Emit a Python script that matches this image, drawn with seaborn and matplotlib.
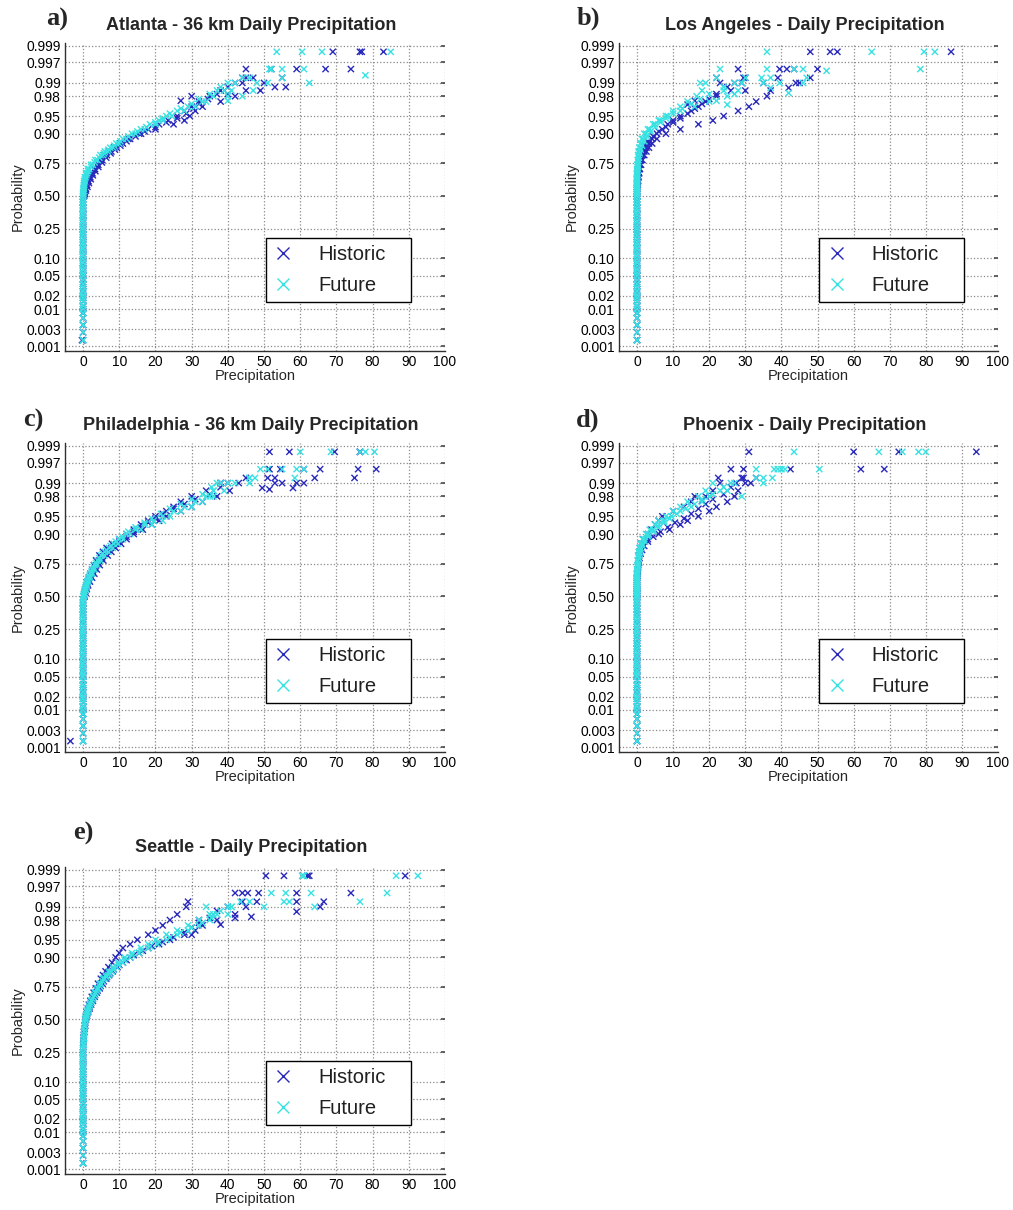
import numpy as np
import pandas as pd
import seaborn as sns
import matplotlib
matplotlib.use("Agg")
import matplotlib.pyplot as plt
from matplotlib.lines import Line2D
from statistics import NormalDist

LEVELS = [0.0015, 0.004, 0.008, 0.012, 0.018, 0.025, 0.035, 0.05, 0.065, 0.085,
          0.11, 0.14, 0.17, 0.21, 0.25, 0.3, 0.35, 0.4, 0.45,
          0.5, 0.53, 0.56, 0.59, 0.62, 0.65, 0.68, 0.71, 0.74, 0.77, 0.8, 0.82,
          0.84, 0.86, 0.88, 0.9, 0.915, 0.93, 0.94, 0.95, 0.96, 0.967, 0.974,
          0.98, 0.985, 0.99, 0.9925, 0.9955, 0.9985]
# levels for the third run of each series (sits between the first set)
LEVELS_MID = [0.0025, 0.006, 0.01, 0.015, 0.021, 0.03, 0.042, 0.057, 0.075, 0.097,
              0.125, 0.155, 0.19, 0.23, 0.275, 0.325, 0.375, 0.425, 0.475,
              0.515, 0.545, 0.575, 0.605, 0.635, 0.665, 0.695, 0.725, 0.755, 0.785,
              0.81, 0.83, 0.85, 0.87, 0.89, 0.908, 0.922, 0.935, 0.945, 0.955, 0.964,
              0.971, 0.977, 0.982, 0.9875, 0.99, 0.9925, 0.9955, 0.9985]

PROB_TICKS = [0.001, 0.003, 0.01, 0.02, 0.05, 0.10, 0.25, 0.50, 0.75, 0.90,
              0.95, 0.98, 0.99, 0.997, 0.999]
PROB_LABELS = ['0.001', '0.003', '0.01', '0.02', '0.05', '0.10', '0.25', '0.50',
               '0.75', '0.90', '0.95', '0.98', '0.99', '0.997', '0.999']
X_TICKS = [0, 10, 20, 30, 40, 50, 60, 70, 80, 90, 100]

# ---- a) Atlanta ----
atl_hist_1 = [0, 0, 0, 0, 0, 0, 0, 0, 0, 0, 0, 0, 0, 0, 0, 0, 0, 0, 0,
              0.3, 0.5, 0.8, 1.1, 1.5, 2.0, 2.6, 3.3, 4.2, 5.3, 6.6, 7.8, 9.3, 11.0, 13.0,
              15.5, 18.0, 21.0, 23.5, 26.0, 28.0, 30.0, 32.0, 35.0, 38.0, 42.0, 45.0, 52.0, 69.0]
atl_hist_2 = [-0.3, 0, 0, 0, 0, 0, 0, 0, 0, 0, 0, 0, 0, 0, 0, 0, 0, 0, 0,
              0.1, 0.3, 0.6, 0.9, 1.3, 1.8, 2.3, 3.0, 3.8, 4.9, 6.0, 7.2, 8.6, 10.3, 12.5,
              16.0, 20.0, 25.0, 28.0, 29.5, 31.0, 33.0, 38.0, 42.0, 45.0, 50.0, 55.0, 67.0, 77.0]
atl_hist_3 = [0, 0, 0, 0, 0, 0, 0, 0, 0, 0, 0, 0, 0, 0, 0, 0, 0, 0, 0,
              0.5, 0.8, 1.2, 1.6, 2.1, 2.7, 3.4, 4.2, 5.2, 6.4, 7.6, 8.8, 10.3, 12.0, 14.5,
              17.0, 20.0, 23.0, 26.0, 28.5, 30.5, 32.0, 34.5, 37.0, 40.0, 44.0, 47.0, 59.0, 83.0]
atl_hist_tail_x = [76.5, 74, 45, 56, 53, 44, 40, 49, 27, 30]
atl_hist_tail_p = [0.9985, 0.9955, 0.9955, 0.9875, 0.9875, 0.9925, 0.982, 0.985, 0.975, 0.98]
atl_fut_1 = [0, 0, 0, 0, 0, 0, 0, 0, 0, 0, 0, 0, 0, 0, 0, 0, 0, 0, 0,
             0, 0, 0.1, 0.2, 0.3, 0.5, 0.8, 1.3, 2.2, 3.4, 4.8, 6.0, 7.5, 9.2, 11.0,
             13.5, 16.0, 18.5, 21.0, 23.0, 26.0, 29.0, 33.0, 36.0, 39.0, 42.0, 46.0, 52.0, 53.5]
atl_fut_2 = [0, 0, 0, 0, 0, 0, 0, 0, 0, 0, 0, 0, 0, 0, 0, 0, 0, 0, 0,
             0, 0.1, 0.2, 0.3, 0.4, 0.7, 1.1, 1.7, 2.7, 4.0, 5.5, 6.8, 8.3, 10.0, 12.0,
             14.5, 17.0, 20.0, 22.0, 24.5, 28.0, 31.0, 34.0, 40.0, 41.0, 48.0, 55.0, 61.0, 66.0]
atl_fut_3 = [0, 0, 0, 0, 0, 0, 0, 0, 0, 0, 0, 0, 0, 0, 0, 0, 0, 0, 0,
             0, 0.1, 0.2, 0.3, 0.5, 0.9, 1.4, 2.2, 3.2, 4.5, 5.8, 7.0, 8.6, 10.3, 12.5,
             15.0, 17.5, 20.0, 22.0, 24.0, 27.0, 30.0, 32.0, 35.0, 38.0, 40.0, 44.0, 55.0, 60.5]
atl_fut_tail_x = [85, 78, 62.5, 51.5, 51, 40, 47, 37, 44]
atl_fut_tail_p = [0.9985, 0.9935, 0.99, 0.9955, 0.99, 0.975, 0.985, 0.985, 0.98]

# ---- b) Los Angeles ----
la_hist_1 = [0, 0, 0, 0, 0, 0, 0, 0, 0, 0, 0, 0, 0, 0, 0, 0, 0, 0, 0,
             0, 0, 0.1, 0.2, 0.3, 0.4, 0.6, 0.8, 1.1, 1.5, 2.0, 2.6, 3.3, 4.2, 5.5,
             8.0, 12.0, 17.0, 21.0, 24.0, 28.0, 31.0, 33.0, 36.0, 37.0, 45.0, 48.0, 50.0, 87.0]
la_hist_2 = [0, 0, 0, 0, 0, 0, 0, 0, 0, 0, 0, 0, 0, 0, 0, 0, 0, 0, 0,
             0, 0, 0, 0.1, 0.2, 0.3, 0.4, 0.6, 0.8, 1.1, 1.5, 2.0, 2.6, 3.3, 4.2,
             5.5, 7.0, 8.5, 10.0, 12.0, 15.0, 17.0, 19.0, 22.0, 26.0, 29.0, 30.0, 41.5, 48.0]
la_hist_3 = [0, 0, 0, 0, 0, 0, 0, 0, 0, 0, 0, 0, 0, 0, 0, 0, 0, 0, 0,
             0, 0, 0, 0, 0, 0.1, 0.2, 0.3, 0.5, 0.8, 1.1, 1.5, 2.1, 3.0, 4.5,
             6.0, 8.0, 10.0, 12.0, 14.0, 16.0, 18.0, 20.0, 22.0, 25.0, 27.0, 29.5, 43.5, 53.5]
la_hist_tail_x = [55.5, 28, 39.5, 22, 23, 39, 35, 42, 44, 30, 16, 14]
la_hist_tail_p = [0.9985, 0.9955, 0.9955, 0.9925, 0.99, 0.9925, 0.99, 0.987, 0.99, 0.985,
                  0.975, 0.97]
la_fut_1 = [0, 0, 0, 0, 0, 0, 0, 0, 0, 0, 0, 0, 0, 0, 0, 0, 0, 0, 0,
            0, 0, 0, 0, 0, 0, 0, 0.1, 0.2, 0.3, 0.4, 0.6, 0.8, 1.1, 1.6,
            2.5, 3.5, 5.0, 6.5, 8.0, 10.0, 12.0, 14.0, 16.5, 18.0, 19.0, 22.0, 23.0, 36.0]
la_fut_2 = [0, 0, 0, 0, 0, 0, 0, 0, 0, 0, 0, 0, 0, 0, 0, 0, 0, 0, 0,
            0, 0, 0, 0, 0, 0, 0, 0, 0.1, 0.2, 0.3, 0.4, 0.6, 0.9, 1.3,
            2.0, 3.0, 4.5, 6.0, 8.5, 12.0, 16.0, 20.0, 25.0, 28.0, 35.0, 37.0, 43.5, 65.0]
la_fut_3 = [0, 0, 0, 0, 0, 0, 0, 0, 0, 0, 0, 0, 0, 0, 0, 0, 0, 0, 0,
            0, 0, 0, 0, 0, 0, 0.1, 0.2, 0.3, 0.5, 0.7, 1.0, 1.4, 2.0, 2.8,
            3.8, 5.0, 6.5, 8.0, 10.0, 12.5, 15.0, 17.5, 20.0, 24.0, 27.0, 30.0, 36.0, 79.5]
la_fut_tail_x = [82.5, 46, 52.5, 78.5, 34.5, 47, 17.5, 29, 39.5, 46, 24, 27, 37, 42, 22, 25]
la_fut_tail_p = [0.9985, 0.9955, 0.995, 0.9955, 0.9925, 0.9925, 0.99, 0.99, 0.99, 0.99,
                 0.985, 0.982, 0.987, 0.983, 0.975, 0.97]

# ---- c) Philadelphia ----
phl_hist_1 = [-3.5, 0, 0, 0, 0, 0, 0, 0, 0, 0, 0, 0, 0, 0, 0, 0, 0, 0, 0,
              0.2, 0.4, 0.6, 0.9, 1.2, 1.6, 2.0, 2.5, 3.0, 3.6, 4.5, 5.5, 6.5, 8.0, 10.0,
              12.0, 14.0, 16.0, 18.0, 20.0, 23.0, 25.0, 27.0, 30.0, 34.0, 38.0, 45.0, 54.5, 57.0]
phl_hist_2 = [0, 0, 0, 0, 0, 0, 0, 0, 0, 0, 0, 0, 0, 0, 0, 0, 0, 0, 0,
              0.4, 0.7, 1.0, 1.4, 1.9, 2.5, 3.1, 3.8, 4.6, 5.6, 6.8, 7.8, 9.0, 10.5, 12.0,
              14.0, 16.5, 19.0, 21.0, 23.0, 27.0, 30.0, 33.0, 37.0, 40.5, 43.0, 51.0, 65.5, 76.5]
phl_hist_3 = [0, 0, 0, 0, 0, 0, 0, 0, 0, 0, 0, 0, 0, 0, 0, 0, 0, 0, 0,
              0.3, 0.6, 0.9, 1.2, 1.6, 2.1, 2.7, 3.4, 4.2, 5.2, 6.2, 7.2, 8.5, 10.0, 12.0,
              14.0, 16.0, 18.0, 20.0, 22.0, 25.0, 28.0, 31.0, 35.0, 38.0, 40.0, 53.0, 61.0, 69.5]
phl_hist_tail_x = [51.5, 76.5, 51.5, 76, 81, 75, 64, 53, 55, 59, 61, 49.5, 51.5, 58, 38]
phl_hist_tail_p = [0.9985, 0.9985, 0.9955, 0.9955, 0.9955, 0.9925, 0.9925, 0.99, 0.99,
                   0.99, 0.99, 0.987, 0.986, 0.987, 0.99]
phl_fut_1 = [0, 0, 0, 0, 0, 0, 0, 0, 0, 0, 0, 0, 0, 0, 0, 0, 0, 0, 0,
             0.1, 0.3, 0.5, 0.8, 1.1, 1.5, 2.0, 2.5, 3.2, 4.0, 5.0, 6.0, 7.2, 8.5, 10.0,
             12.0, 14.5, 17.0, 19.5, 22.0, 25.0, 28.0, 31.0, 34.0, 36.0, 38.0, 46.0, 49.0, 60.0]
phl_fut_2 = [0, 0, 0, 0, 0, 0, 0, 0, 0, 0, 0, 0, 0, 0, 0, 0, 0, 0, 0,
             0.2, 0.4, 0.7, 1.0, 1.4, 1.9, 2.5, 3.1, 3.9, 4.8, 5.9, 7.0, 8.2, 9.6, 11.0,
             13.0, 16.0, 19.0, 22.0, 24.0, 27.0, 30.0, 33.0, 36.0, 39.0, 42.0, 47.5, 51.0, 68.5]
phl_fut_3 = [0, 0, 0, 0, 0, 0, 0, 0, 0, 0, 0, 0, 0, 0, 0, 0, 0, 0, 0,
             0.2, 0.4, 0.7, 1.0, 1.4, 1.8, 2.3, 2.9, 3.6, 4.5, 5.4, 6.4, 7.6, 9.0, 10.8,
             12.5, 14.5, 17.0, 19.0, 21.5, 24.0, 27.0, 30.0, 33.0, 35.5, 37.0, 46.0, 55.0, 76.5]
phl_fut_tail_x = [78, 80.5, 59, 61, 58.5, 46, 36, 40, 35]
phl_fut_tail_p = [0.9985, 0.9985, 0.9955, 0.9955, 0.9925, 0.99, 0.985, 0.99, 0.98]

# ---- d) Phoenix ----
phx_hist_1 = [0, 0, 0, 0, 0, 0, 0, 0, 0, 0, 0, 0, 0, 0, 0, 0, 0, 0, 0,
              0, 0, 0, 0, 0, 0, 0.1, 0.2, 0.3, 0.4, 0.6, 0.8, 1.1, 1.5, 3.0,
              6.0, 9.0, 12.0, 14.0, 17.0, 20.0, 22.0, 25.0, 27.0, 28.0, 30.0, 33.0, 42.5, 72.5]
phx_hist_2 = [0, 0, 0, 0, 0, 0, 0, 0, 0, 0, 0, 0, 0, 0, 0, 0, 0, 0, 0,
              0, 0, 0, 0, 0, 0, 0, 0.1, 0.2, 0.3, 0.4, 0.6, 0.8, 1.1, 1.8,
              3.0, 4.0, 5.0, 6.0, 7.0, 10.0, 13.0, 15.0, 19.0, 21.0, 23.0, 29.5, 29.5, 31.0]
phx_hist_3 = [0, 0, 0, 0, 0, 0, 0, 0, 0, 0, 0, 0, 0, 0, 0, 0, 0, 0, 0,
              0, 0, 0, 0, 0, 0.1, 0.2, 0.3, 0.5, 0.7, 1.0, 1.4, 2.0, 3.0, 4.5,
              6.5, 8.5, 10.5, 13.0, 15.0, 17.0, 19.0, 21.0, 24.0, 26.0, 27.5, 29.0, 26.0, 60.0]
phx_hist_tail_x = [94, 62, 68.5, 22.5, 31.5, 16, 18]
phx_hist_tail_p = [0.9985, 0.9955, 0.9955, 0.9925, 0.99, 0.98, 0.975]
phx_fut_1 = [0, 0, 0, 0, 0, 0, 0, 0, 0, 0, 0, 0, 0, 0, 0, 0, 0, 0, 0,
             0, 0, 0, 0, 0, 0, 0, 0, 0.1, 0.2, 0.3, 0.5, 0.7, 1.0, 1.5,
             2.5, 3.5, 5.0, 6.0, 8.0, 10.0, 12.0, 14.0, 17.0, 19.0, 21.0, 33.0, 38.0, 43.5]
phx_fut_2 = [0, 0, 0, 0, 0, 0, 0, 0, 0, 0, 0, 0, 0, 0, 0, 0, 0, 0, 0,
             0, 0, 0, 0, 0, 0, 0, 0.1, 0.2, 0.3, 0.5, 0.7, 1.0, 1.4, 2.0,
             3.0, 4.5, 6.0, 7.5, 9.5, 12.0, 15.0, 18.0, 20.0, 23.0, 26.0, 35.0, 41.0, 67.0]
phx_fut_3 = [0, 0, 0, 0, 0, 0, 0, 0, 0, 0, 0, 0, 0, 0, 0, 0, 0, 0, 0,
             0, 0, 0, 0, 0, 0, 0.1, 0.2, 0.3, 0.5, 0.7, 1.0, 1.5, 2.2, 3.2,
             4.5, 6.0, 7.5, 9.0, 11.0, 13.5, 16.0, 18.0, 21.0, 24.0, 27.0, 37.5, 40.0, 78.0]
phx_fut_tail_x = [73.5, 80, 33, 39, 50.5, 35, 29, 25]
phx_fut_tail_p = [0.9985, 0.9985, 0.9955, 0.9955, 0.9955, 0.99, 0.98, 0.985]

# ---- e) Seattle ----
sea_hist_1 = [0, 0, 0, 0, 0, 0, 0, 0, 0, 0, 0, 0, 0, 0, 0, 0.05, 0.1, 0.2, 0.4,
              0.6, 0.8, 1.0, 1.3, 1.6, 2.0, 2.4, 2.9, 3.5, 4.1, 4.9, 5.5, 6.2, 7.0, 8.0,
              9.0, 10.0, 11.0, 13.0, 15.0, 18.0, 20.0, 22.0, 24.0, 26.0, 28.5, 29.0, 42.0, 50.5]
sea_hist_2 = [0, 0, 0, 0, 0, 0, 0, 0, 0, 0, 0, 0, 0, 0, 0, 0.1, 0.2, 0.4, 0.6,
              0.8, 1.1, 1.4, 1.8, 2.2, 2.7, 3.2, 3.8, 4.6, 5.4, 6.4, 7.2, 8.2, 9.5, 11.0,
              13.0, 15.5, 18.0, 21.0, 24.0, 28.0, 31.0, 33.0, 37.0, 42.0, 45.0, 48.0, 59.0, 62.0]
sea_hist_3 = [0, 0, 0, 0, 0, 0, 0, 0, 0, 0, 0, 0, 0, 0, 0, 0.1, 0.2, 0.4, 0.6,
              0.8, 1.1, 1.4, 1.8, 2.2, 2.7, 3.3, 4.0, 4.8, 5.7, 6.6, 7.5, 8.5, 10.0, 12.0,
              14.0, 16.5, 19.0, 22.0, 25.0, 28.0, 30.0, 32.0, 35.0, 37.0, 40.0, 44.0, 45.5, 62.5]
sea_hist_tail_x = [55.5, 89, 44, 48.5, 74, 59, 66.5, 65.5, 59, 42, 46.5, 38, 32, 30]
sea_hist_tail_p = [0.9985, 0.9985, 0.9955, 0.9955, 0.9955, 0.9925, 0.9925, 0.99, 0.987,
                   0.982, 0.983, 0.975, 0.98, 0.96]
sea_fut_1 = [0, 0, 0, 0, 0, 0, 0, 0, 0, 0, 0, 0, 0, 0, 0, 0.1, 0.2, 0.3, 0.5,
             0.7, 0.9, 1.2, 1.5, 1.9, 2.3, 2.8, 3.3, 3.9, 4.6, 5.5, 6.3, 7.2, 8.3, 9.7,
             11.5, 13.5, 16.0, 18.0, 20.0, 23.0, 26.0, 29.0, 32.0, 35.0, 40.0, 43.5, 52.0, 60.5]
sea_fut_2 = [0, 0, 0, 0, 0, 0, 0, 0, 0, 0, 0, 0, 0, 0, 0, 0.1, 0.2, 0.3, 0.4,
             0.6, 0.9, 1.2, 1.5, 1.9, 2.4, 2.9, 3.5, 4.2, 5.0, 6.0, 7.0, 8.0, 9.3, 11.0,
             13.0, 15.5, 18.0, 20.5, 23.0, 26.0, 29.0, 32.0, 35.0, 37.0, 41.0, 55.5, 63.0, 86.5]
sea_fut_3 = [0, 0, 0, 0, 0, 0, 0, 0, 0, 0, 0, 0, 0, 0, 0, 0.1, 0.2, 0.3, 0.5,
             0.7, 1.0, 1.3, 1.7, 2.1, 2.6, 3.2, 3.8, 4.6, 5.4, 6.4, 7.3, 8.4, 9.8, 11.5,
             13.5, 16.0, 18.5, 21.0, 24.0, 27.0, 30.0, 33.0, 35.5, 38.0, 41.0, 46.0, 56.0, 61.0]
sea_fut_tail_x = [92.5, 84, 76.5, 57, 50, 64, 40, 36, 34]
sea_fut_tail_p = [0.9985, 0.9955, 0.9925, 0.9925, 0.99, 0.99, 0.985, 0.985, 0.99]

HIST_COLOR = '#2828bc'
FUT_COLOR = '#38e2e2'

_nd = NormalDist()
_ppf = np.vectorize(_nd.inv_cdf, otypes=[float])
_cdf = np.vectorize(_nd.cdf, otypes=[float])


def probit(p):
    p = np.clip(np.asarray(p, dtype=float), 1e-9, 1 - 1e-9)
    return _ppf(p)


def inv_probit(z):
    return _cdf(np.asarray(z, dtype=float))


def panel_frame(hist_runs, hist_tail, fut_runs, fut_tail):
    rows = []
    for runs, tail, name in [(hist_runs, hist_tail, 'Historic'),
                             (fut_runs, fut_tail, 'Future')]:
        for run, levels in zip(runs, [LEVELS, LEVELS, LEVELS_MID]):
            rows.append(pd.DataFrame({'Precipitation': run, 'Probability': levels,
                                      'series': name}))
        rows.append(pd.DataFrame({'Precipitation': tail[0], 'Probability': tail[1],
                                  'series': name}))
    return pd.concat(rows, ignore_index=True)


panels = [
    ('a)', 'Atlanta - 36 km Daily Precipitation', (65, 43, 445, 351), (57, 19), (251, 25),
     panel_frame([atl_hist_1, atl_hist_2, atl_hist_3], (atl_hist_tail_x, atl_hist_tail_p),
                 [atl_fut_1, atl_fut_2, atl_fut_3], (atl_fut_tail_x, atl_fut_tail_p))),
    ('b)', 'Los Angeles - Daily Precipitation', (619, 43, 998, 351), (588, 18), (805, 25),
     panel_frame([la_hist_1, la_hist_2, la_hist_3], (la_hist_tail_x, la_hist_tail_p),
                 [la_fut_1, la_fut_2, la_fut_3], (la_fut_tail_x, la_fut_tail_p))),
    ('c)', 'Philadelphia - 36 km Daily Precipitation', (65, 443, 445, 752), (33, 420), (251, 426),
     panel_frame([phl_hist_1, phl_hist_2, phl_hist_3], (phl_hist_tail_x, phl_hist_tail_p),
                 [phl_fut_1, phl_fut_2, phl_fut_3], (phl_fut_tail_x, phl_fut_tail_p))),
    ('d)', 'Phoenix - Daily Precipitation', (619, 443, 998, 752), (588, 420), (805, 426),
     panel_frame([phx_hist_1, phx_hist_2, phx_hist_3], (phx_hist_tail_x, phx_hist_tail_p),
                 [phx_fut_1, phx_fut_2, phx_fut_3], (phx_fut_tail_x, phx_fut_tail_p))),
    ('e)', 'Seattle - Daily Precipitation', (65, 867, 445, 1174), (83, 833), (251, 848),
     panel_frame([sea_hist_1, sea_hist_2, sea_hist_3], (sea_hist_tail_x, sea_hist_tail_p),
                 [sea_fut_1, sea_fut_2, sea_fut_3], (sea_fut_tail_x, sea_fut_tail_p))),
]

sns.set_theme(style='white')
plt.rcParams['font.family'] = ['Liberation Sans', 'DejaVu Sans']

W, H = 1013, 1210
fig = plt.figure(figsize=(W / 100, H / 100), dpi=100)
fig.patch.set_facecolor('white')

for letter, title, (l, t, r, b), letter_pos, title_pos, df in panels:
    ax = fig.add_axes([l / W, 1 - b / H, (r - l) / W, (b - t) / H])
    sns.scatterplot(data=df, x='Precipitation', y='Probability', hue='series',
                    palette={'Historic': HIST_COLOR, 'Future': FUT_COLOR},
                    marker='x', s=20, linewidth=1.0, legend=False, ax=ax)
    ax.set_yscale('function', functions=(probit, inv_probit))
    ax.set_ylim(0.00071, 0.99918)
    ax.set_xlim(-5, 100)
    ax.set_yticks(PROB_TICKS)
    ax.set_yticklabels(PROB_LABELS)
    ax.yaxis.set_minor_locator(matplotlib.ticker.NullLocator())
    ax.set_xticks(X_TICKS)
    ax.set_xticks([5, 15, 25, 35, 45, 55, 65, 75, 85, 95], minor=True)
    ax.grid(True, which='major', linestyle=':', linewidth=0.9, color='#8a8a8a')
    for side in ['top', 'right']:
        ax.spines[side].set_visible(False)
    for side in ['left', 'bottom']:
        ax.spines[side].set_color('#303030')
        ax.spines[side].set_linewidth(1.0)
    ax.tick_params(axis='both', which='major', direction='in', length=3, labelsize=10,
                   colors='#505050', labelcolor='black', pad=3, right=True)
    ax.tick_params(axis='x', which='minor', direction='in', length=2, colors='#505050')
    ax.set_xlabel('Precipitation', fontsize=10.5, labelpad=0)
    ax.set_ylabel('Probability', fontsize=10.5, labelpad=1)

    handles = [Line2D([], [], ls='none', marker='x', color=HIST_COLOR, markersize=9,
                      mew=1.0, label='Historic'),
               Line2D([], [], ls='none', marker='x', color=FUT_COLOR, markersize=9,
                      mew=1.0, label='Future')]
    leg = ax.legend(handles=handles, loc='lower left',
                    bbox_to_anchor=(0.529, 0.159, 0.382, 0.2), mode='expand',
                    fontsize=14.5, frameon=True, fancybox=False, framealpha=1,
                    edgecolor='black', handletextpad=1.25, labelspacing=0.6,
                    borderpad=0.35, handlelength=1.0, borderaxespad=0)
    leg.get_frame().set_linewidth(1.0)
    for txt in leg.get_texts():
        txt.set_color('#202020')

    fig.text(title_pos[0] / W, 1 - title_pos[1] / H, title, ha='center', va='center',
             fontsize=13, fontweight='bold')
    fig.text(letter_pos[0] / W, 1 - letter_pos[1] / H, letter, ha='center', va='center',
             fontsize=19, fontweight='bold', family='Liberation Serif')

fig.savefig('out.png', dpi=100)
